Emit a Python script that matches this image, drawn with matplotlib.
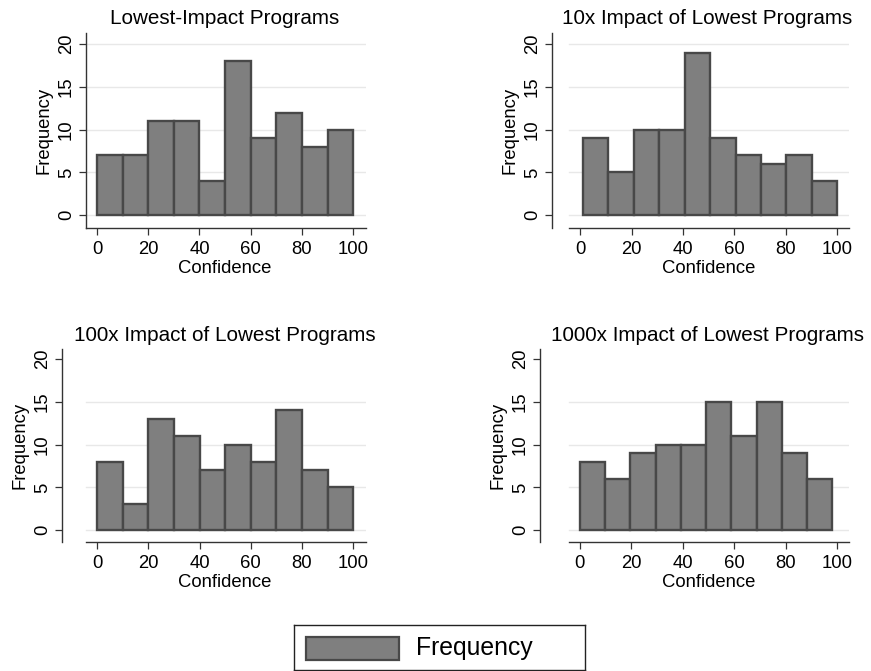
import numpy as np
import matplotlib
matplotlib.use("Agg")
from matplotlib import pyplot as plt, patches

plt.rcParams['font.family'] = ['Liberation Sans', 'DejaVu Sans']

# bin counts per panel (10 bins each)
titles = ["Lowest-Impact Programs", "10x Impact of Lowest Programs",
          "100x Impact of Lowest Programs", "1000x Impact of Lowest Programs"]
counts_lowest = [7, 7, 11, 11, 4, 18, 9, 12, 8, 10]
counts_10x = [9, 5, 10, 10, 19, 9, 7, 6, 7, 4]
counts_100x = [8, 3, 13, 11, 7, 10, 8, 14, 7, 5]
counts_1000x = [8, 6, 9, 10, 10, 15, 11, 15, 9, 6]
bin_start = [0, 1, 0, 0]
bin_end = [100, 100, 100, 98]
xticks = [0, 20, 40, 60, 80, 100]
yticks = [0, 5, 10, 15, 20]

W, H = 871, 671
fig = plt.figure(figsize=(W / 100, H / 100), dpi=100)

# panel boxes in pixels: left (y axis), right, top, bottom, then x and y limits
boxes = [
    (86, 366, 33, 228, -4.3, 105.0, -1.5, 21.3),
    (552, 849, 33, 228, -10.9, 104.5, -1.5, 21.3),
    (62, 366, 349, 542, -13.7, 105.0, -1.4, 21.2),
    (540, 849, 349, 542, -15.5, 104.5, -1.4, 21.2),
]
title_pos = [(225, 18), (707, 18), (225, 335), (707, 335)]
all_counts = [counts_lowest, counts_10x, counts_100x, counts_1000x]

fill = '#7f7f7f'
edge = '#484848'

for k in range(4):
    l, r, t, b, x0, x1, y0, y1 = boxes[k]
    ax = fig.add_axes([l / W, 1 - b / H, (r - l) / W, (b - t) / H])
    ax.set_xlim(x0, x1)
    ax.set_ylim(y0, y1)
    edges = np.linspace(bin_start[k], bin_end[k], 11)
    widths = np.diff(edges)
    # plot region starts where the x axis line starts
    plot_left = -4.3
    grid_top = 20 if k < 2 else 15
    for g in yticks:
        if g <= grid_top:
            ax.plot([plot_left, x1], [g, g], color='#e8e8e8', lw=1, zorder=0)
    ax.bar(edges[:-1], all_counts[k], width=widths, align='edge',
           color=fill, edgecolor=edge, linewidth=1.7, zorder=2)
    for s in ['top', 'right']:
        ax.spines[s].set_visible(False)
    ax.spines['bottom'].set_bounds(plot_left, x1)
    for s in ['left', 'bottom']:
        ax.spines[s].set_color('#333333')
        ax.spines[s].set_linewidth(1.0)
    ax.set_xticks(xticks)
    ax.set_yticks(yticks)
    ax.set_yticklabels([str(v) for v in yticks], rotation=90, va='center')
    ax.tick_params(direction='out', length=5, width=0.9, color='#333333',
                   labelsize=13.3, pad=3)
    ax.tick_params(axis='x', pad=4)
    # x label centred under the 0-100 tick range
    ax.set_xlabel("Confidence", fontsize=13.3, labelpad=2,
                  x=(50 - x0) / (x1 - x0))
    ax.set_ylabel("Frequency", fontsize=13.3, labelpad=4)
    fig.text(title_pos[k][0] / W, 1 - title_pos[k][1] / H, titles[k],
             fontsize=14.9, ha='center', va='center')

# shared legend
leg = fig.add_axes([294 / W, 1 - 670 / H, (585 - 294) / W, (670 - 625) / H])
leg.set_xlim(0, 1)
leg.set_ylim(0, 1)
leg.set_xticks([])
leg.set_yticks([])
for s in leg.spines.values():
    s.set_color('#222222')
    s.set_linewidth(1.0)
leg.add_patch(patches.Rectangle((0.04, 0.22), 0.32, 0.52, facecolor=fill,
                                edgecolor=edge, linewidth=1.6))
leg.text(0.42, 0.48, "Frequency", fontsize=17.8, va='center', ha='left')

fig.savefig("out.png", dpi=100)
